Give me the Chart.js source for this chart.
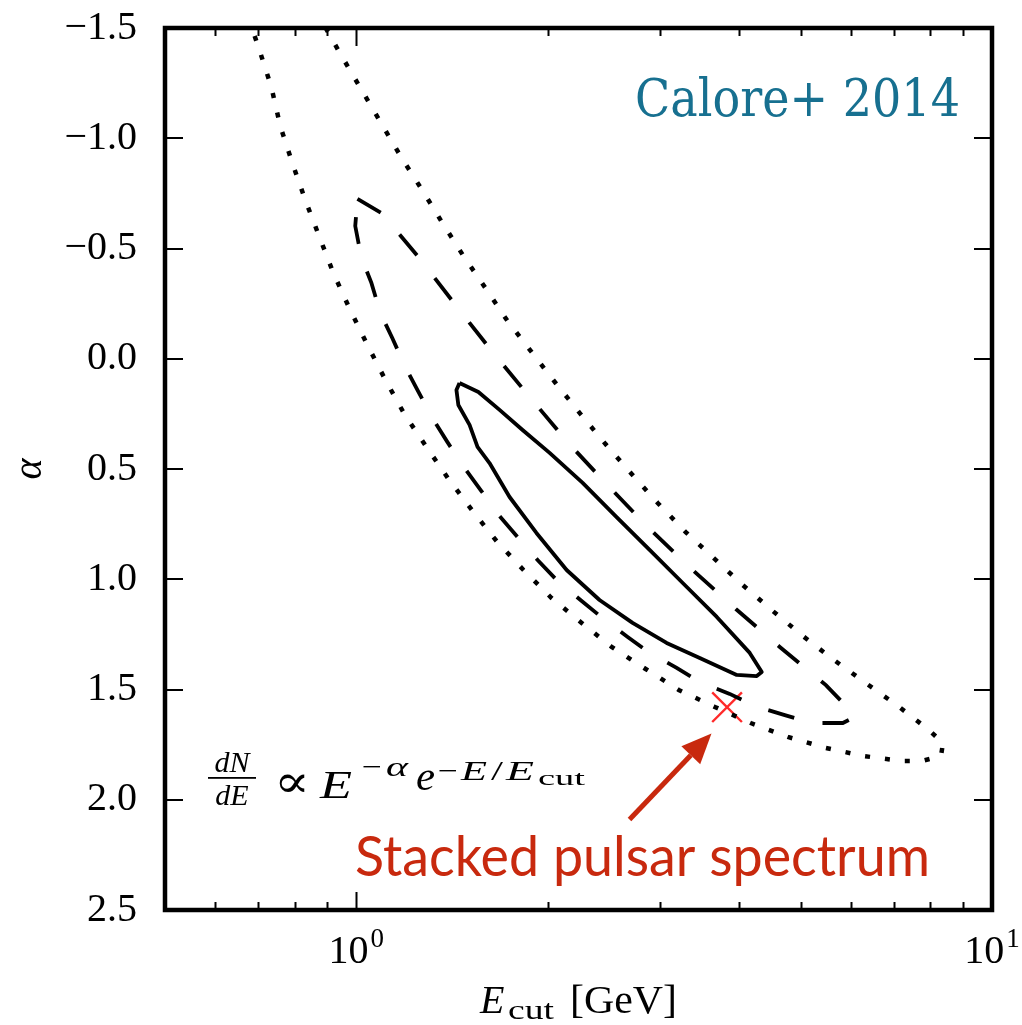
<!DOCTYPE html>
<html>
<head>
<meta charset="utf-8">
<script src="https://cdn.jsdelivr.net/npm/chart.js@4.4.0/dist/chart.umd.min.js"></script>
<style>
  html, body { margin: 0; padding: 0; background: #fff; }
  #wrap { width: 1022px; height: 1025px; }
</style>
</head>
<body>
<div id="wrap"><canvas id="contours" width="1022" height="1025"></canvas></div>
<script>
// Confidence regions of the spectral fit, E_cut in GeV vs. alpha
const SIGMA1_ECUT = [1.453, 1.556, 1.680, 1.826, 2.014, 2.270, 2.567, 2.893, 3.262, 3.690,
  4.158, 4.343, 4.265, 3.967, 3.469, 3.077, 2.720, 2.413, 2.142, 1.920,
  1.742, 1.620, 1.551, 1.507, 1.447, 1.437, 1.453];
const SIGMA1_ALPHA = [0.110, 0.151, 0.232, 0.323, 0.427, 0.563, 0.718, 0.867, 1.017, 1.171,
  1.334, 1.421, 1.439, 1.434, 1.357, 1.289, 1.198, 1.094, 0.958, 0.790,
  0.627, 0.473, 0.400, 0.300, 0.210, 0.142, 0.110];

const SIGMA2_ECUT = [1.004, 1.095, 1.256, 1.432, 1.637, 1.873, 2.149, 2.484, 2.884, 3.370,
  3.954, 4.636, 5.479, 5.910, 6.084, 5.825, 5.206, 4.721, 4.234, 3.867,
  3.469, 3.191, 2.893, 2.672, 2.440, 2.262, 2.065, 1.928, 1.793, 1.680,
  1.573, 1.479, 1.391, 1.317, 1.248, 1.194, 1.139, 1.091, 1.056, 1.018,
  0.996, 1.004];
const SIGMA2_ALPHA = [-0.725, -0.661, -0.457, -0.244, -0.031, 0.173, 0.378, 0.573, 0.768, 0.954,
  1.135, 1.307, 1.480, 1.579, 1.625, 1.652, 1.652, 1.616, 1.575, 1.520,
  1.466, 1.402, 1.334, 1.262, 1.176, 1.099, 1.003, 0.913, 0.808, 0.713,
  0.600, 0.495, 0.378, 0.269, 0.142, 0.037, -0.094, -0.207, -0.344, -0.461,
  -0.602, -0.725];

const SIGMA3_ECUT = [0.676, 0.703, 0.735, 0.759, 0.793, 0.831, 0.875, 0.920, 0.978, 1.041,
  1.111, 1.190, 1.289, 1.396, 1.523, 1.662, 1.832, 2.028, 2.262, 2.521,
  2.852, 3.215, 3.664, 4.173, 4.772, 5.479, 6.286, 7.216, 7.758, 8.313,
  8.373, 7.959, 7.112, 6.333, 5.639, 5.039, 4.520, 4.054, 3.650, 3.297,
  2.979, 2.711, 2.466, 2.253, 2.058, 1.886, 1.729, 1.596, 1.474, 1.366,
  1.266, 1.173, 1.091, 1.015, 0.944, 0.875];
const SIGMA3_ALPHA = [-1.55, -1.405, -1.232, -1.056, -0.888, -0.720, -0.552, -0.389, -0.221, -0.062,
  0.096, 0.251, 0.400, 0.545, 0.690, 0.827, 0.958, 1.085, 1.198, 1.307,
  1.407, 1.502, 1.579, 1.652, 1.715, 1.765, 1.802, 1.824, 1.824, 1.802,
  1.743, 1.684, 1.575, 1.471, 1.366, 1.257, 1.144, 1.026, 0.904, 0.786,
  0.654, 0.523, 0.387, 0.251, 0.110, -0.031, -0.171, -0.321, -0.466, -0.616,
  -0.770, -0.920, -1.074, -1.228, -1.382, -1.55];

// stacked pulsar best fit and the arrow pointing at it
const PULSAR_ECUT = [3.83];
const PULSAR_ALPHA = [1.58];
const ARROW_TAIL = { x: 2.69, y: 2.09 };
const ARROW_HEAD = { x: 3.62, y: 1.70 };

const X_TICKS = [0.6, 0.7, 0.8, 0.9, 1, 2, 3, 4, 5, 6, 7, 8, 9, 10];
const X_MAJOR = [1, 10];
const X_LABELS = ["0", "1"]; // exponents of the major ticks

const SERIF = "'Liberation Serif', 'Times New Roman', serif";
const RED = "#c8290e";

const toPoints = (xs, ys) => xs.map((x, i) => ({ x, y: ys[i] }));

function fmtAlpha(v) {
  const s = Math.abs(v).toFixed(1);
  return v < -1e-9 ? "\u2212" + s : s;
}

// text at a given left/baseline; optional width stretches it horizontally
function textAt(ctx, text, font, x, y, width) {
  ctx.save();
  ctx.font = font;
  ctx.textAlign = "left";
  ctx.textBaseline = "alphabetic";
  ctx.translate(x, y);
  if (width) ctx.scale(width / ctx.measureText(text).width, 1);
  ctx.fillText(text, 0, 0);
  ctx.restore();
}

const decorations = {
  id: "decorations",
  afterDraw(chart) {
    const { ctx, chartArea: a, scales: { x, y } } = chart;
    ctx.save();

    // inward ticks on all four sides
    ctx.strokeStyle = "#000";
    ctx.lineWidth = 2;
    ctx.beginPath();
    X_TICKS.forEach((v) => {
      const px = Math.round(x.getPixelForValue(v)) + 0.5;
      const len = X_MAJOR.includes(v) ? 18 : 8;
      ctx.moveTo(px, a.bottom); ctx.lineTo(px, a.bottom - len);
      ctx.moveTo(px, a.top); ctx.lineTo(px, a.top + len);
    });
    y.ticks.forEach((t) => {
      const py = Math.round(y.getPixelForValue(t.value));
      ctx.moveTo(a.left, py); ctx.lineTo(a.left + 18, py);
      ctx.moveTo(a.right, py); ctx.lineTo(a.right - 18, py);
    });
    ctx.stroke();

    ctx.lineWidth = 4.5;
    ctx.strokeRect(a.left, a.top, a.right - a.left, a.bottom - a.top);

    // x tick labels 10^n
    ctx.fillStyle = "#000";
    X_MAJOR.forEach((v, i) => {
      const px = x.getPixelForValue(v);
      ctx.font = `40px ${SERIF}`;
      const wBase = ctx.measureText("10").width;
      ctx.font = `27px ${SERIF}`;
      const wExp = ctx.measureText(X_LABELS[i]).width;
      const left = px - (wBase + wExp + 2) / 2;
      textAt(ctx, "10", `40px ${SERIF}`, left, 963);
      textAt(ctx, X_LABELS[i], `27px ${SERIF}`, left + wBase + 2, 947);
    });

    // x axis title
    textAt(ctx, "E", `italic 40px ${SERIF}`, 480, 1013);
    textAt(ctx, "cut", `28px ${SERIF}`, 508, 1019, 46);
    textAt(ctx, "[GeV]", `40px ${SERIF}`, 570, 1013, 107);

    // spectral model dN/dE ~ E^-alpha exp(-E/E_cut)
    ctx.font = `italic 30px ${SERIF}`;
    ctx.textAlign = "center";
    ctx.fillText("dN", 232, 772);
    ctx.fillText("dE", 232, 805);
    ctx.fillRect(208, 777, 48, 1.8);
    textAt(ctx, "\u221D", `46px 'DejaVu Serif', serif`, 274, 797, 36);
    textAt(ctx, "E", `italic 40px ${SERIF}`, 320, 798, 32);
    textAt(ctx, "\u2212", `28px ${SERIF}`, 362, 776, 20);
    textAt(ctx, "\u03B1", `italic 28px ${SERIF}`, 386, 776, 22);
    textAt(ctx, "e", `italic 40px ${SERIF}`, 416, 790, 19);
    textAt(ctx, "\u2212", `28px ${SERIF}`, 438, 780, 20);
    textAt(ctx, "E", `italic 28px ${SERIF}`, 461, 780, 26);
    textAt(ctx, "/", `28px ${SERIF}`, 491, 780, 12);
    textAt(ctx, "E", `italic 28px ${SERIF}`, 506, 780, 28);
    textAt(ctx, "cut", `22px ${SERIF}`, 538, 785, 47);

    // reference label
    ctx.fillStyle = "#177090";
    textAt(ctx, "Calore+ 2014", `52px 'DejaVu Serif', serif`, 635, 116, 325);

    // arrow and annotation
    const tx = x.getPixelForValue(ARROW_TAIL.x), ty = y.getPixelForValue(ARROW_TAIL.y);
    const hx = x.getPixelForValue(ARROW_HEAD.x), hy = y.getPixelForValue(ARROW_HEAD.y);
    const ang = Math.atan2(hy - ty, hx - tx);
    const headLen = 30, headHalf = 13;
    const bx = hx - headLen * Math.cos(ang), by = hy - headLen * Math.sin(ang);
    ctx.strokeStyle = RED;
    ctx.fillStyle = RED;
    ctx.lineWidth = 5;
    ctx.beginPath();
    ctx.moveTo(tx, ty);
    ctx.lineTo(bx, by);
    ctx.stroke();
    ctx.beginPath();
    ctx.moveTo(hx, hy);
    ctx.lineTo(bx + headHalf * Math.sin(ang), by - headHalf * Math.cos(ang));
    ctx.lineTo(bx - headHalf * Math.sin(ang), by + headHalf * Math.cos(ang));
    ctx.closePath();
    ctx.fill();

    textAt(ctx, "Stacked pulsar spectrum", `56px Lato, 'Open Sans', sans-serif`, 355, 876, 575);

    ctx.restore();
  }
};

new Chart(document.getElementById("contours"), {
  type: "scatter",
  data: {
    datasets: [
      {
        label: "3 sigma",
        data: toPoints(SIGMA3_ECUT, SIGMA3_ALPHA),
        showLine: true,
        borderColor: "#000",
        borderWidth: 4.5,
        borderDash: [5, 15],
        borderCapStyle: "butt",
        pointRadius: 0,
        tension: 0
      },
      {
        label: "2 sigma",
        data: toPoints(SIGMA2_ECUT, SIGMA2_ALPHA),
        showLine: true,
        borderColor: "#000",
        borderWidth: 3.8,
        borderDash: [27, 29],
        pointRadius: 0,
        tension: 0
      },
      {
        label: "1 sigma",
        data: toPoints(SIGMA1_ECUT, SIGMA1_ALPHA),
        showLine: true,
        borderColor: "#000",
        borderWidth: 3.8,
        borderJoinStyle: "round",
        pointRadius: 0,
        tension: 0
      },
      {
        label: "Stacked pulsars",
        data: toPoints(PULSAR_ECUT, PULSAR_ALPHA),
        showLine: false,
        pointStyle: "crossRot",
        pointRadius: 21,
        borderColor: "#ff2a2a",
        borderWidth: 2.4
      }
    ]
  },
  options: {
    responsive: false,
    animation: false,
    devicePixelRatio: 1,
    layout: { padding: { top: 28, right: 30, left: 0, bottom: 0 } },
    plugins: {
      legend: { display: false },
      tooltip: { enabled: false }
    },
    scales: {
      x: {
        type: "logarithmic",
        min: 0.5,
        max: 10,
        grid: { display: false },
        border: { display: false },
        ticks: { display: false },
        afterBuildTicks: (s) => { s.ticks = X_TICKS.map((v) => ({ value: v })); },
        afterFit: (s) => { s.height = 115; }
      },
      y: {
        type: "linear",
        reverse: true,
        min: -1.5,
        max: 2.5,
        grid: { display: false },
        border: { display: false },
        ticks: {
          stepSize: 0.5,
          padding: 20,
          color: "#000",
          font: { family: SERIF, size: 40 },
          callback: (v) => fmtAlpha(v)
        },
        title: {
          display: true,
          text: "\u03B1",
          color: "#000",
          font: { family: SERIF, size: 40, style: "italic" },
          padding: { top: 6, bottom: 0 }
        },
        afterFit: (s) => {
          s.width = 165;
          s.paddingTop = 0;
          s.paddingBottom = 0;
        }
      }
    }
  },
  plugins: [decorations]
});
</script>
</body>
</html>
